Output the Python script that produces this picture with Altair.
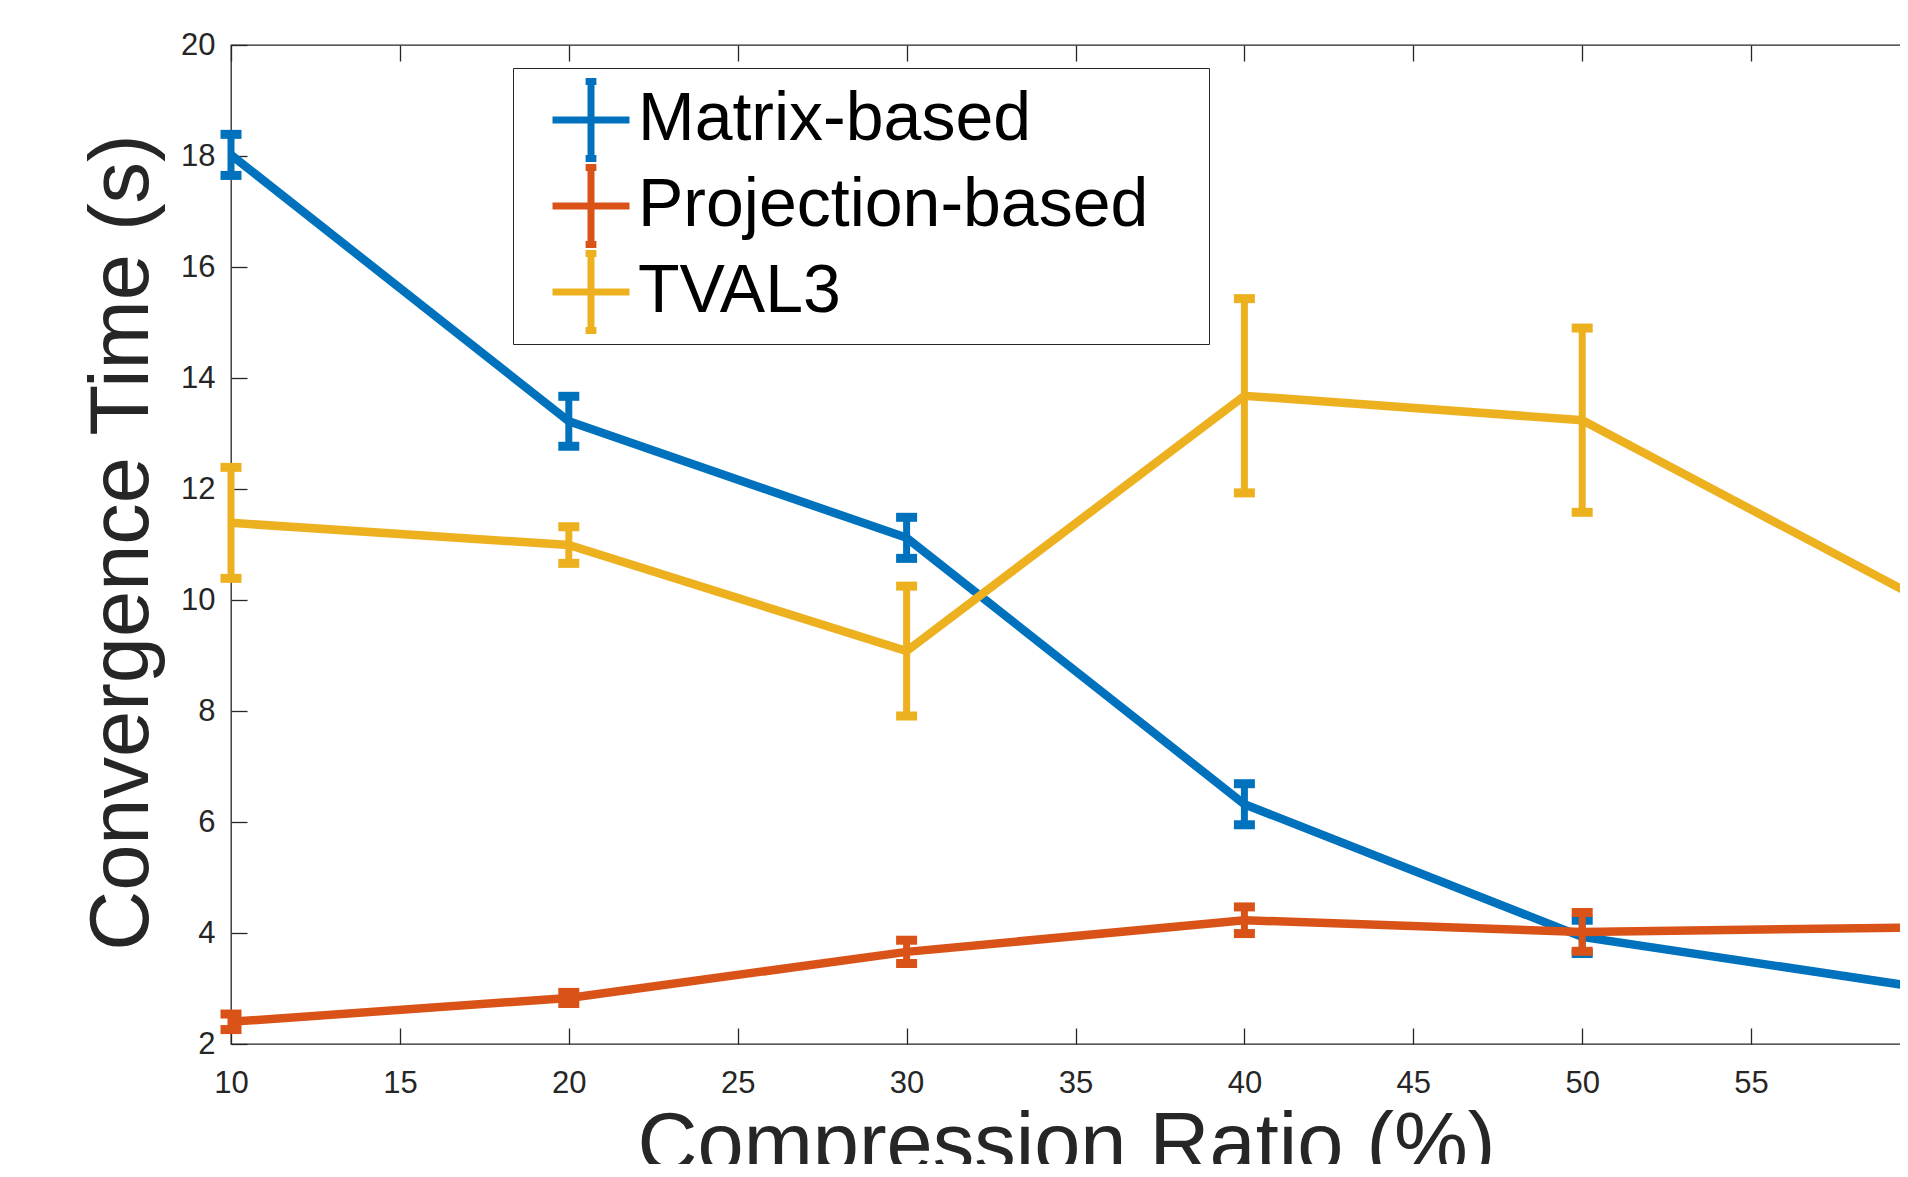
import altair as alt
import pandas as pd

# ---- data ----
ratio = [10, 20, 30, 40, 50, 60]
series_names = ["Matrix-based", "Projection-based", "TVAL3"]
series_colors = ["#0072BD", "#D95319", "#EDB120"]
matrix_time = [18.02, 13.22, 11.12, 6.32, 3.93, 3.02]
matrix_err = [0.37, 0.45, 0.37, 0.37, 0.30, 0.30]
proj_time = [2.40, 2.83, 3.66, 4.23, 4.02, 4.10]
proj_err = [0.14, 0.10, 0.21, 0.24, 0.35, 0.30]
tval_time = [11.39, 10.99, 9.08, 13.68, 13.24, 10.02]
tval_err = [1.00, 0.33, 1.17, 1.75, 1.66, 1.20]
x_ticks = [10, 15, 20, 25, 30, 35, 40, 45, 50, 55, 60]
y_ticks = [2, 4, 6, 8, 10, 12, 14, 16, 18, 20]

values = [matrix_time, proj_time, tval_time]
errors = [matrix_err, proj_err, tval_err]

rows = []
for name, vals, errs in zip(series_names, values, errors):
    for r, v, e in zip(ratio, vals, errs):
        rows.append({"series": name, "ratio": r, "time": v, "lo": v - e, "hi": v + e})
df = pd.DataFrame(rows)

FONT = "Liberation Sans"
AX = "#262626"
x_scale = alt.Scale(domain=[10, 60], nice=False, zero=False)
y_scale = alt.Scale(domain=[2, 20], nice=False, zero=False)
color_scale = alt.Scale(domain=series_names, range=series_colors)

symbol_path = "M-1,0H1M0,-1V1M-0.14,-1H0.14M-0.14,1H0.14"
legend = alt.Legend(
    title=None, orient="none", legendX=282, legendY=23,
    fillColor="white", strokeColor=AX, padding=10,
    symbolType=symbol_path, symbolSize=5929, symbolStrokeWidth=7,
    symbolOffset=26, labelOffset=5, rowPadding=2, clipHeight=84,
    labelFontSize=68, labelColor="black", labelFont=FONT, labelLimit=3000,
    labelExpr="datum.label + '\u2800'",
)

ax_x_main = alt.Axis(values=x_ticks, orient="bottom", ticks=False, tickSize=0, domain=False,
                     grid=False, labelFontSize=31, labelColor=AX, labelFont=FONT,
                     labelPadding=24, labelFlush=False, labelAngle=0,
                     title="Compression Ratio (%)", titleFontSize=83, titleFont=FONT,
                     titleFontWeight="normal", titleColor=AX, titleX=835, titleY=126,
                     titleBaseline="alphabetic", titleAlign="center")
ax_y_main = alt.Axis(values=y_ticks, orient="left", ticks=False, tickSize=0, domain=False,
                     grid=False, labelFontSize=31, labelColor=AX, labelFont=FONT,
                     labelPadding=16, labelFlush=False,
                     title="Convergence Time (s)", titleFontSize=83, titleFont=FONT,
                     titleFontWeight="normal", titleColor=AX, titleX=-84, titleY=497,
                     titleAngle=270, titleBaseline="alphabetic", titleAlign="center")


def tick_axis(vals, orient):
    return alt.Axis(values=vals, orient=orient, offset=-16, tickSize=16, ticks=True,
                    labels=False, domain=False, grid=False, title=None,
                    tickColor=AX, tickWidth=1.3)


layers = []
for i, (name, col) in enumerate(zip(series_names, series_colors)):
    sub = df[df["series"] == name]
    base = alt.Chart(sub)
    first = i == 0
    line = base.mark_line(strokeWidth=8.5).encode(
        x=alt.X("ratio:Q", scale=x_scale, axis=ax_x_main if first else None),
        y=alt.Y("time:Q", scale=y_scale, axis=ax_y_main if first else None),
        color=alt.Color("series:N", scale=color_scale, legend=legend),
    )
    rule = base.mark_rule(strokeWidth=7, color=col).encode(
        x=alt.X("ratio:Q", scale=x_scale, axis=tick_axis(x_ticks, "bottom") if first else None),
        y=alt.Y("lo:Q", scale=y_scale, axis=tick_axis(y_ticks, "left") if first else None),
        y2="hi:Q",
    )
    cap_lo = base.mark_tick(orient="horizontal", size=21, thickness=9, color=col, opacity=1).encode(
        x=alt.X("ratio:Q", scale=x_scale, axis=tick_axis(x_ticks, "top") if first else None),
        y=alt.Y("lo:Q", scale=y_scale, axis=tick_axis(y_ticks, "right") if first else None),
    )
    cap_hi = base.mark_tick(orient="horizontal", size=21, thickness=9, color=col, opacity=1).encode(
        x=alt.X("ratio:Q", scale=x_scale, axis=None),
        y=alt.Y("hi:Q", scale=y_scale, axis=None),
    )
    layers += [line, rule, cap_lo, cap_hi]

chart = alt.layer(*layers).resolve_axis(x="independent", y="independent").properties(
    width=1689, height=999,
    autosize=alt.AutoSizeParams(type="none"),
    padding={"left": 223, "top": 37, "right": -20, "bottom": 120},
).configure(font=FONT).configure_view(stroke=AX, strokeWidth=1.3)

chart.save("out.html", embed_options={"renderer": "svg", "actions": False})
